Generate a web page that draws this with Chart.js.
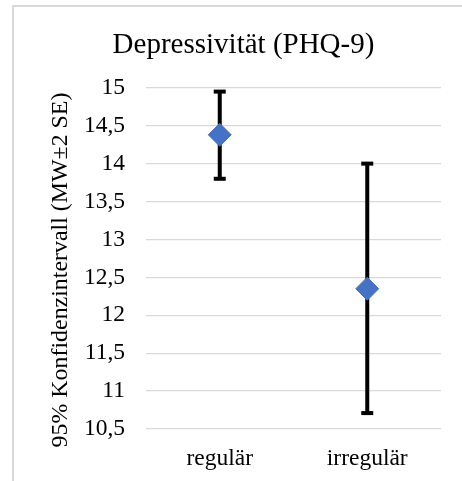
<!DOCTYPE html>
<html><head><meta charset="utf-8">
<script src="https://cdn.jsdelivr.net/npm/chart.js@4"></script>
<style>
html,body{margin:0;padding:0;background:#fff;}
#wrap{position:relative;width:462px;height:481px;overflow:hidden;}
#frame{position:absolute;left:12px;top:5px;width:470px;height:500px;border-left:2px solid #d9d9d9;border-top:2px solid #d9d9d9;box-sizing:border-box;}
canvas{position:absolute;left:0;top:0;}
</style></head>
<body>
<div id="wrap"><div id="frame"></div><canvas id="c" width="462" height="481"></canvas></div>
<script>
const categories = ['regulär', 'irregulär'];
const means = [14.38, 12.35];
const lower = [13.80, 10.71];
const upper = [14.95, 14.00];
const yMin = 10.5, yMax = 15, yStep = 0.5;
const chartTitle = 'Depressivität (PHQ-9)';
const yTitle = '95% Konfidenzintervall (MW±2 SE)';
const FONT = "'Liberation Serif', 'Times New Roman', serif";

const errorBars = {
  id: 'errorBars',
  beforeDatasetsDraw(chart) {
    const ctx = chart.ctx, y = chart.scales.y, meta = chart.getDatasetMeta(0);
    ctx.save();
    ctx.fillStyle = '#000';
    meta.data.forEach((pt, i) => {
      const x = pt.x, yu = y.getPixelForValue(upper[i]), yl = y.getPixelForValue(lower[i]);
      ctx.fillRect(x - 2, yu, 4, yl - yu);
      ctx.fillRect(x - 6, yu - 2, 12, 4);
      ctx.fillRect(x - 6, yl - 2, 12, 4);
    });
    ctx.restore();
  }
};
const yAxisTitle = {
  id: 'yAxisTitle',
  afterDraw(chart) {
    const ctx = chart.ctx;
    ctx.save();
    ctx.translate(61, 270);
    ctx.rotate(-Math.PI / 2);
    ctx.font = '23.9px ' + FONT;
    ctx.fillStyle = '#000';
    ctx.textAlign = 'center';
    ctx.textBaseline = 'middle';
    ctx.fillText(yTitle, 0, 0);
    ctx.restore();
  }
};

new Chart(document.getElementById('c'), {
  type: 'line',
  data: {
    labels: categories,
    datasets: [{
      data: means,
      showLine: false,
      pointStyle: 'rectRot',
      pointRadius: 11.5,
      pointHoverRadius: 11.5,
      backgroundColor: '#4472C4',
      borderColor: '#4472C4',
      borderWidth: 1
    }]
  },
  options: {
    responsive: false,
    animation: false,
    events: [],
    layout: { padding: { left: 46, right: 21, top: 0, bottom: 0 } },
    plugins: {
      legend: { display: false },
      tooltip: { enabled: false },
      title: {
        display: true, text: chartTitle, color: '#000',
        font: { family: FONT, size: 29, weight: 'normal' },
        padding: { top: 28, bottom: 25 }
      }
    },
    scales: {
      x: {
        offset: true,
        grid: { display: false, drawTicks: false },
        border: { display: false },
        ticks: { color: '#000', padding: 16, font: { family: FONT, size: 23.5 } },
        afterFit(s) { s.height = 52; }
      },
      y: {
        min: yMin, max: yMax,
        grid: { color: '#d9d9d9', lineWidth: 1.3, drawTicks: false },
        border: { display: false },
        ticks: {
          stepSize: yStep, color: '#000', padding: 21,
          font: { family: FONT, size: 23.5 },
          callback: v => String(v).replace('.', ',')
        },
        afterFit(s) { s.width = 100; }
      }
    }
  },
  plugins: [errorBars, yAxisTitle]
});
</script>
</body></html>
